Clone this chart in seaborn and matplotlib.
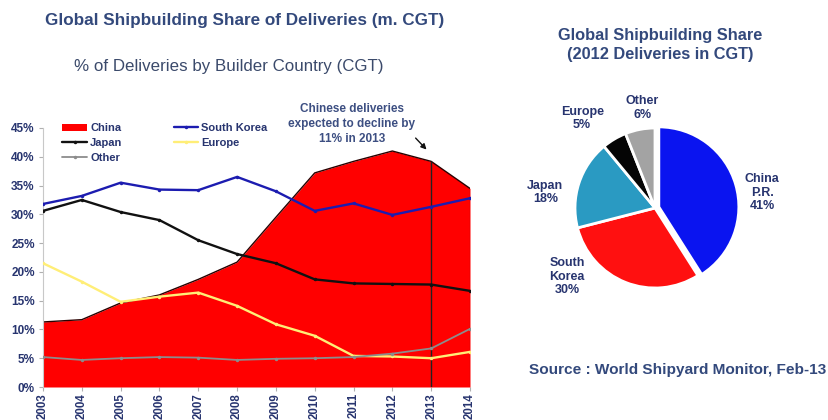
import matplotlib
matplotlib.use("Agg")
import matplotlib.pyplot as plt
from matplotlib.patches import Patch
from matplotlib.lines import Line2D
import seaborn as sns

# Share of deliveries by builder country (% of CGT)
years = [2003, 2004, 2005, 2006, 2007, 2008, 2009, 2010, 2011, 2012, 2013, 2014]
china = [11.3, 11.7, 14.6, 16.0, 18.7, 21.7, 29.5, 37.2, 39.2, 41.0, 39.2, 34.5]
south_korea = [31.8, 33.2, 35.5, 34.3, 34.2, 36.5, 34.0, 30.6, 31.9, 29.9, 31.3, 32.8]
japan = [30.6, 32.5, 30.4, 29.0, 25.5, 23.1, 21.5, 18.7, 18.0, 17.9, 17.8, 16.7]
europe = [21.5, 18.3, 14.8, 15.7, 16.4, 14.1, 10.9, 8.9, 5.4, 5.3, 5.0, 6.1]
other = [5.2, 4.7, 5.0, 5.2, 5.1, 4.7, 4.9, 5.0, 5.2, 5.8, 6.7, 10.1]

y_ticks = [0, 5, 10, 15, 20, 25, 30, 35, 40, 45]

# 2012 deliveries (CGT)
pie_labels = ["China\nP.R.", "South\nKorea", "Japan", "Europe", "Other"]
pie_shares = [41, 30, 18, 5, 6]

# where each pie label sits, in pie-radius units
pie_label_xy = [(1.34, 0.19), (-1.10, -0.86), (-1.37, 0.19), (-0.91, 1.12), (-0.16, 1.25)]

sns.set_theme(style="white")
plt.rcParams["font.family"] = ["Liberation Sans", "DejaVu Sans"]

NAVY = "#27346f"
TITLE = "#33497c"
C_CHINA = "#ff0000"
C_KOREA = "#1c1cb0"
C_JAPAN = "#111111"
C_EUROPE = "#ffee77"
C_OTHER = "#8c8c8c"

fig = plt.figure(figsize=(8.29, 4.2), dpi=100)

# ---- area / line chart ----
ax = fig.add_axes([43 / 829, 33 / 420, 427 / 829, 259 / 420])
ax.fill_between(years, china, 0, color=C_CHINA, linewidth=0, zorder=1)
sns.lineplot(x=years, y=china, color="#2a0000", linewidth=1.0, ax=ax, zorder=1.5)
ax.vlines(years[-1], 0, china[-1], color="#5a0000", linewidth=0.8, zorder=1.5)

series = [
    (south_korea, C_KOREA, 1.7),
    (japan, C_JAPAN, 1.7),
    (europe, C_EUROPE, 1.7),
    (other, C_OTHER, 1.3),
]
for vals, col, lw in series:
    sns.lineplot(x=years, y=vals, color=col, linewidth=lw, marker="o",
                 markersize=2.5, markeredgewidth=0, ax=ax, zorder=3)

# marker for the 2013 forecast year
ax.vlines(years[10], 0, china[10], color="#222222", linewidth=1.0, zorder=2.5)

ax.set_xlim(years[0], years[-1])
ax.set_ylim(0, 45)
ax.set_yticks(y_ticks)
ax.set_yticklabels([f"{t}%" for t in y_ticks])
ax.set_xticks(years)
ax.set_xticklabels([str(y) for y in years], rotation=90)
ax.tick_params(axis="y", left=True, length=3, width=0.8, color="#b0b0b0",
               labelsize=8.5, labelcolor=NAVY, pad=3)
ax.tick_params(axis="x", bottom=True, length=3, width=0.8, color="#b0b0b0",
               labelsize=8.3, labelcolor=NAVY, pad=1.5)
for lbl in ax.get_xticklabels() + ax.get_yticklabels():
    lbl.set_fontweight("bold")
for side in ["top", "right", "bottom"]:
    ax.spines[side].set_visible(False)
ax.spines["left"].set_color("#c8c8c8")
ax.spines["left"].set_linewidth(0.8)
ax.set_xlabel("")
ax.set_ylabel("")

handles = [
    Patch(facecolor=C_CHINA, edgecolor="none"),
    Line2D([], [], color=C_JAPAN, lw=1.7, marker="o", markersize=2.5, markeredgewidth=0),
    Line2D([], [], color=C_OTHER, lw=1.3, marker="o", markersize=2.5, markeredgewidth=0),
    Line2D([], [], color=C_KOREA, lw=1.7, marker="o", markersize=2.5, markeredgewidth=0),
    Line2D([], [], color=C_EUROPE, lw=1.7, marker="o", markersize=2.5, markeredgewidth=0),
]
leg = ax.legend(handles, ["China", "Japan", "Other", "South Korea", "Europe"],
                ncol=2, loc="upper left", bbox_to_anchor=(0.035, 1.035),
                frameon=False, fontsize=8, handlelength=2.2, handletextpad=0.3,
                labelspacing=0.45, columnspacing=4.6, borderaxespad=0)
for t in leg.get_texts():
    t.set_color(NAVY)
    t.set_fontweight("bold")

ax.annotate("", xy=(2012.93, 40.9), xytext=(2012.55, 43.6),
            arrowprops=dict(arrowstyle="-|>", color="#111111", lw=1.0,
                            mutation_scale=8), annotation_clip=False)
ax.text(2010.96, 45.7, "Chinese deliveries\nexpected to decline by\n11% in 2013",
        ha="center", va="center", fontsize=8.5, fontweight="bold",
        color="#3d4f82", linespacing=1.3, clip_on=False)

fig.text(245 / 829, 1 - 20 / 420, "Global Shipbuilding Share of Deliveries (m. CGT)",
         ha="center", va="center", fontsize=12.3, fontweight="bold", color=TITLE)
fig.text(229 / 829, 1 - 67 / 420, "% of Deliveries by Builder Country (CGT)",
         ha="center", va="center", fontsize=12.2, color="#3b4a6b")

# ---- pie chart ----
pax = fig.add_axes([555 / 829, 112 / 420, 200 / 829, 200 / 420])
wedges, texts = pax.pie(
    pie_shares,
    labels=pie_labels,
    colors=["#0a14f0", "#ff1010", "#2a9ac2", "#050505", "#a3a3a3"],
    startangle=90, counterclock=False,
    explode=[0.05, 0, 0, 0, 0],
    wedgeprops=dict(edgecolor="white", linewidth=2),
    textprops=dict(fontsize=9, fontweight="bold", color=NAVY,
                   linespacing=1.15),
)
for t, share, xy in zip(texts, pie_shares, pie_label_xy):
    t.set_text(f"{t.get_text()}\n{share}%")
    t.set_position(xy)
    t.set_ha("center")
    t.set_va("center")
pax.set_aspect("equal")

fig.text(660 / 829, 1 - 45 / 420, "Global Shipbuilding Share\n(2012 Deliveries in CGT)",
         ha="center", va="center", fontsize=11.8, fontweight="bold", color=TITLE,
         linespacing=1.4)
fig.text(826 / 829, 1 - 370 / 420, "Source : World Shipyard Monitor, Feb-13",
         ha="right", va="center", fontsize=11.1, fontweight="bold", color=TITLE)

fig.savefig("out.png", dpi=100, facecolor="white")
